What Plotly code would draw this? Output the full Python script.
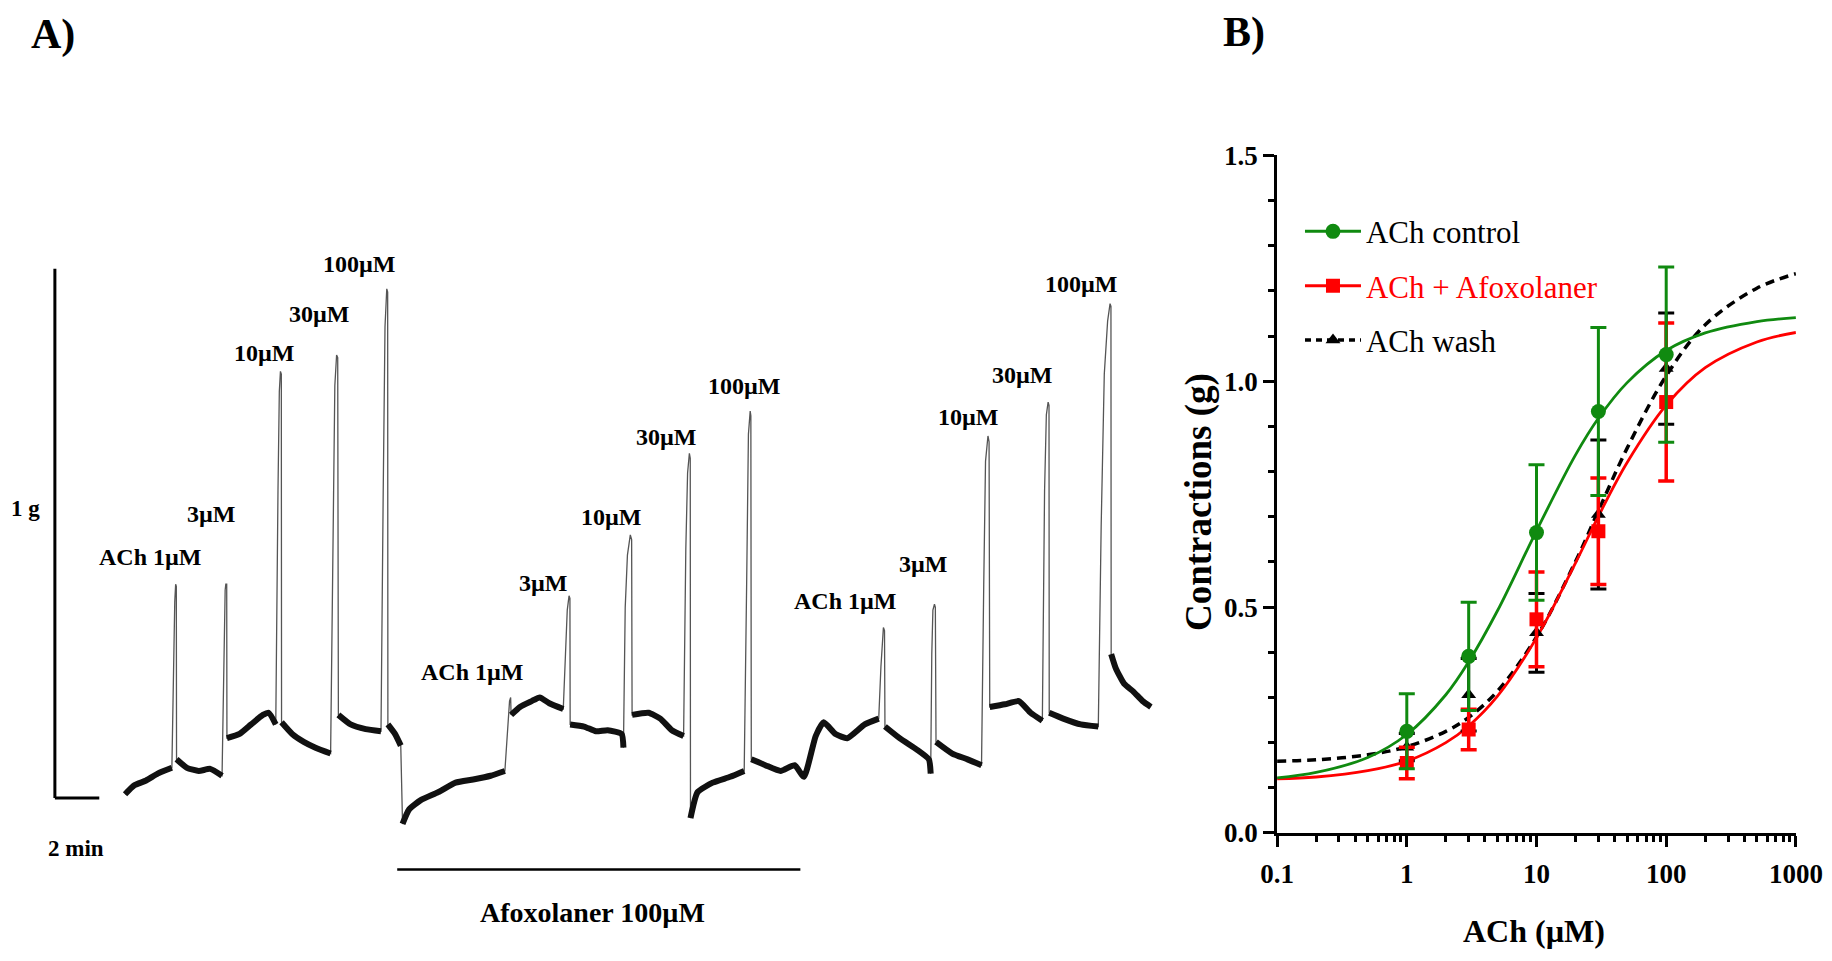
import plotly.graph_objects as go

# ---------------- Panel B : concentration-response data ----------------
conc = [1, 3, 10, 30, 100]                      # ACh (µM)
ctrl_mean = [0.225, 0.391, 0.665, 0.933, 1.059]
ctrl_sem = [0.083, 0.120, 0.150, 0.186, 0.194]
afox_mean = [0.155, 0.229, 0.473, 0.668, 0.954]
afox_sem = [0.035, 0.045, 0.105, 0.118, 0.175]
wash_mean = [0.190, 0.306, 0.443, 0.705, 1.028]
wash_sem = [0.030, 0.080, 0.087, 0.165, 0.123]

# fitted curves
fit_conc = [0.1, 0.2, 0.5, 1, 2, 3, 5, 10, 20, 30, 50, 100, 200, 500, 1000]
ctrl_fit = [0.122, 0.134, 0.167, 0.218, 0.306, 0.379, 0.492, 0.669, 0.837, 0.918,
            0.997, 1.068, 1.107, 1.132, 1.141]
afox_fit = [0.120, 0.124, 0.138, 0.159, 0.200, 0.237, 0.303, 0.432, 0.598, 0.701,
            0.820, 0.947, 1.030, 1.087, 1.108]
wash_fit = [0.159, 0.162, 0.173, 0.191, 0.225, 0.256, 0.314, 0.434, 0.601, 0.713,
            0.852, 1.012, 1.125, 1.206, 1.238]

x_tick_vals = [0.1, 1, 10, 100, 1000]
x_tick_text = ["0.1", "1", "10", "100", "1000"]
y_tick_vals = [0, 0.5, 1.0, 1.5]
y_tick_text = ["0.0", "0.5", "1.0", "1.5"]

# ---------------- Panel A : isometric tension record ----------------
# time (min) and tension (g)
rec_t = [0, 0.42, 0.95, 1.47, 2.11, 2.18, 2.24, 2.28, 2.31,
         2.32, 2.79, 3.32, 3.84, 4.37, 4.47, 4.51, 4.54, 4.58,
         4.59, 5.16, 5.68, 6.21, 6.47, 6.79, 6.89, 6.95, 7.00, 7.04,
         7.05, 7.53, 8.05, 8.58, 9.26, 9.37, 9.45, 9.53, 9.58,
         9.61, 10.16, 10.84, 11.53, 11.63, 11.71, 11.79, 11.83,
         11.84, 12.16, 12.42, 12.46,
         12.50, 12.79, 13.32, 14.11, 14.89, 15.68, 16.47, 17.11, 17.24, 17.32, 17.37,
         17.39, 17.79, 18.32, 18.68, 19.11, 19.74, 19.84, 19.92, 20.00, 20.04,
         20.05, 20.68, 21.21, 21.74, 22.37, 22.45, 22.53, 22.63, 22.76, 22.82,
         22.84, 23.58, 24.11, 24.63, 25.16, 25.26, 25.34, 25.42, 25.46,
         25.47, 25.79, 26.47, 27.26, 27.89, 28.00, 28.08, 28.16, 28.19,
         28.21, 28.84, 29.53, 30.16, 30.58, 31.11, 31.47, 32.00, 32.53, 33.32, 33.95,
         34.05, 34.11, 34.16, 34.21,
         34.23, 34.89, 35.68, 36.21, 36.29, 36.34, 36.39, 36.46, 36.50,
         36.53, 37.26, 37.95, 38.58, 38.68, 38.76, 38.87, 38.92,
         38.95, 39.63, 40.26, 40.79, 41.32, 41.42, 41.50, 41.58, 41.62,
         41.63, 42.26, 43.05, 43.84, 43.97, 44.11, 44.26, 44.37, 44.41,
         44.42, 44.63, 45.00, 45.42, 45.84, 46.21]
rec_g = [0.007, 0.024, 0.033, 0.046, 0.057, 0.272, 0.371, 0.404, 0.400,
         0.073, 0.057, 0.051, 0.055, 0.042, 0.316, 0.393, 0.404, 0.404,
         0.113, 0.121, 0.139, 0.157, 0.161, 0.139, 0.581, 0.768, 0.806, 0.801,
         0.143, 0.121, 0.106, 0.095, 0.084, 0.514, 0.779, 0.837, 0.832,
         0.157, 0.139, 0.130, 0.126, 0.581, 0.890, 0.962, 0.956,
         0.139, 0.121, 0.099, 0.030,
         -0.049, -0.022, -0.004, 0.011, 0.029, 0.035, 0.042, 0.051, 0.139, 0.183, 0.190,
         0.157, 0.172, 0.183, 0.190, 0.179, 0.168, 0.272, 0.355, 0.382, 0.377,
         0.139, 0.135, 0.126, 0.128, 0.121, 0.095, 0.360, 0.459, 0.497, 0.488,
         0.157, 0.161, 0.150, 0.128, 0.117, 0.470, 0.614, 0.651, 0.642,
         -0.038, 0.011, 0.029, 0.040, 0.051, 0.404, 0.687, 0.731, 0.722,
         0.073, 0.062, 0.051, 0.062, 0.040, 0.117, 0.143, 0.121, 0.113, 0.139, 0.150,
         0.249, 0.305, 0.322, 0.316,
         0.135, 0.113, 0.091, 0.073, 0.046, 0.272, 0.355, 0.366, 0.360,
         0.106, 0.084, 0.073, 0.062, 0.404, 0.636, 0.684, 0.673,
         0.172, 0.177, 0.183, 0.161, 0.146, 0.581, 0.724, 0.748, 0.742,
         0.161, 0.150, 0.139, 0.135, 0.515, 0.801, 0.901, 0.934, 0.929,
         0.272, 0.245, 0.216, 0.201, 0.183, 0.172]
# fast transients (contractions / relaxations) : start and end times
fast_on = [2.11, 4.37, 6.79, 9.26, 11.53, 12.42, 17.11, 19.74, 22.45, 25.16,
           27.89, 33.95, 36.29, 38.58, 41.32, 43.84]
fast_off = [2.32, 4.59, 7.05, 9.61, 11.84, 12.50, 17.39, 20.05, 22.84, 25.47,
            28.21, 34.23, 36.53, 38.95, 41.63, 44.42]
peak_labels = ["ACh 1µM", "3µM", "10µM", "30µM", "100µM",
               "ACh 1µM", "3µM", "10µM", "30µM", "100µM",
               "ACh 1µM", "3µM", "10µM", "30µM", "100µM"]
afox_period = [12.26, 30.42]        # min, Afoxolaner 100 µM exposure
scale_g = 1.0                       # g
scale_min = 2.0                     # min

# ---------------- styles / positions ----------------
GREEN = "#108a10"
RED = "#ff0000"
SERIF = "Liberation Serif"
label_pos_t = [1.16, 3.89, 6.26, 8.74, 10.53, 15.63, 18.84, 21.89, 24.37, 27.89,
               32.47, 35.95, 37.95, 40.42, 43.05]
label_pos_g = [0.455, 0.536, 0.841, 0.914, 1.009, 0.238, 0.406, 0.530, 0.682, 0.779,
               0.373, 0.442, 0.720, 0.799, 0.971]
scale_t0 = -3.16

fig = go.Figure()

# ---- Panel A traces ----
band_g = [None if any(a < t < b for a, b in zip(fast_on, fast_off)) else g
          for t, g in zip(rec_t, rec_g)]
fig.add_trace(go.Scatter(x=rec_t, y=rec_g, mode="lines", xaxis="x2", yaxis="y2",
                         line=dict(color="#555555", width=1.3), showlegend=False,
                         hoverinfo="skip"))
fig.add_trace(go.Scatter(x=rec_t, y=band_g, mode="lines", xaxis="x2", yaxis="y2",
                         line=dict(color="#111111", width=6, shape="spline", smoothing=0.5),
                         connectgaps=False, showlegend=False, hoverinfo="skip"))

# ---- Panel B curves ----
fig.add_trace(go.Scatter(x=fit_conc, y=wash_fit, mode="lines", line_shape="spline",
                         line=dict(color="black", width=3.5, dash="9px,6px"),
                         showlegend=False, hoverinfo="skip"))
fig.add_trace(go.Scatter(x=fit_conc, y=afox_fit, mode="lines", line_shape="spline",
                         line=dict(color=RED, width=2.8), showlegend=False))
fig.add_trace(go.Scatter(x=fit_conc, y=ctrl_fit, mode="lines", line_shape="spline",
                         line=dict(color=GREEN, width=2.8), showlegend=False))

# ---- Panel B points with error bars ----
fig.add_trace(go.Scatter(x=conc, y=wash_mean, mode="markers",
                         marker=dict(symbol="triangle-up", size=13, color="black"),
                         error_y=dict(type="data", array=wash_sem, color="black",
                                      thickness=3, width=8), showlegend=False))
fig.add_trace(go.Scatter(x=conc, y=afox_mean, mode="markers",
                         marker=dict(symbol="square", size=14, color=RED),
                         error_y=dict(type="data", array=afox_sem, color=RED,
                                      thickness=3.5, width=8), showlegend=False))
fig.add_trace(go.Scatter(x=conc, y=ctrl_mean, mode="markers",
                         marker=dict(symbol="circle", size=15, color=GREEN),
                         error_y=dict(type="data", array=ctrl_sem, color=GREEN,
                                      thickness=3, width=8), showlegend=False))

# ---- legend entries ----
fig.add_trace(go.Scatter(x=[None], y=[None], mode="lines+markers", name="ACh control",
                         legendgroup="a",
                         line=dict(color=GREEN, width=3),
                         marker=dict(symbol="circle", size=15, color=GREEN)))
fig.add_trace(go.Scatter(x=[None], y=[None], mode="lines+markers",
                         name="<span style='color:#ff0000'>ACh + Afoxolaner</span>",
                         legendgroup="b",
                         line=dict(color=RED, width=3),
                         marker=dict(symbol="square", size=14, color=RED)))
fig.add_trace(go.Scatter(x=[None], y=[None], mode="lines+markers", name="ACh wash",
                         legendgroup="c",
                         line=dict(color="black", width=3.5, dash="6px,5px"),
                         marker=dict(symbol="triangle-up", size=13, color="black")))

# ---- Panel A shapes: scale bars and afoxolaner bar ----
shapes = [
    dict(type="line", xref="x2", yref="y2", x0=scale_t0, x1=scale_t0, y0=0, y1=scale_g,
         line=dict(color="black", width=3)),
    dict(type="line", xref="x2", yref="y2", x0=scale_t0, x1=scale_t0 + scale_min, y0=0, y1=0,
         line=dict(color="black", width=3)),
    dict(type="line", xref="x2", yref="y2", x0=afox_period[0], x1=afox_period[1],
         y0=-0.135, y1=-0.135, line=dict(color="black", width=2.5)),
]

lab_font = dict(family=SERIF, size=24, color="black", weight="bold")
small_font = dict(family=SERIF, size=23, color="black", weight="bold")
annotations = []
for txt, tt, gg in zip(peak_labels, label_pos_t, label_pos_g):
    annotations.append(dict(text=txt, x=tt, y=gg, xref="x2", yref="y2", showarrow=False,
                            xanchor="center", yanchor="middle", font=lab_font))
annotations += [
    dict(text="1 g", x=-4.47, y=0.547, xref="x2", yref="y2", showarrow=False,
         xanchor="center", yanchor="middle", font=small_font),
    dict(text="2 min", x=-2.21, y=-0.095, xref="x2", yref="y2", showarrow=False,
         xanchor="center", yanchor="middle", font=small_font),
    dict(text="Afoxolaner 100µM", x=sum(afox_period) / 2 - 0.3, y=-0.216, xref="x2",
         yref="y2", showarrow=False, xanchor="center", yanchor="middle",
         font=dict(family=SERIF, size=28, color="black", weight="bold")),
    dict(text="A)", x=0.0287, y=0.9636, xref="paper", yref="paper", showarrow=False,
         xanchor="center", yanchor="middle",
         font=dict(family=SERIF, size=42, color="black", weight="bold")),
    dict(text="B)", x=0.679, y=0.966, xref="paper", yref="paper", showarrow=False,
         xanchor="center", yanchor="middle",
         font=dict(family=SERIF, size=42, color="black", weight="bold")),
    dict(text="Contractions (g)", x=0.6545, y=0.4776, xref="paper", yref="paper",
         showarrow=False, textangle=-90, xanchor="center", yanchor="middle",
         font=dict(family=SERIF, size=37, color="black", weight="bold")),
    dict(text="ACh (µM)", x=0.8373, y=0.031, xref="paper", yref="paper", showarrow=False,
         xanchor="center", yanchor="middle",
         font=dict(family=SERIF, size=32, color="black", weight="bold")),
]

minor_log = [m * d for d in (0.1, 1, 10, 100) for m in range(2, 10)]
tick_font = dict(family=SERIF, size=27, color="black", weight="bold")

fig.update_layout(
    width=1832, height=961,
    margin=dict(l=0, r=0, t=0, b=0),
    paper_bgcolor="white", plot_bgcolor="white",
    shapes=shapes, annotations=annotations,
    xaxis=dict(type="log", range=[-1, 3], domain=[0.6971, 0.9803], anchor="y",
               showline=True, linewidth=3, linecolor="black", mirror=False,
               ticks="outside", ticklen=11, tickwidth=3, tickcolor="black",
               tickvals=x_tick_vals, ticktext=x_tick_text, tickfont=tick_font,
               ticklabelstandoff=4,
               minor=dict(tickvals=minor_log, ticks="outside", ticklen=6, tickwidth=2.5,
                          tickcolor="black", showgrid=False),
               showgrid=False, zeroline=False, automargin=False),
    yaxis=dict(range=[0, 1.5], domain=[0.1332, 0.8383], anchor="x",
               showline=True, linewidth=3, linecolor="black",
               ticks="outside", ticklen=11, tickwidth=3, tickcolor="black",
               tickvals=y_tick_vals, ticktext=y_tick_text, tickfont=tick_font,
               minor=dict(dtick=0.1, ticks="outside", ticklen=6, tickwidth=2.5,
                          tickcolor="black", showgrid=False),
               showgrid=False, zeroline=False, automargin=False),
    xaxis2=dict(domain=[0, 0.6378], range=[-5.632, 47.0], anchor="y2", visible=False),
    yaxis2=dict(domain=[0, 1], range=[-0.308, 1.5077], anchor="x2", visible=False),
    legend=dict(x=0.7096, y=0.787, xanchor="left", yanchor="top",
                bgcolor="rgba(0,0,0,0)", font=dict(family=SERIF, size=31, color="black"),
                tracegroupgap=11, itemwidth=56),
)

fig.write_html("out.html")
